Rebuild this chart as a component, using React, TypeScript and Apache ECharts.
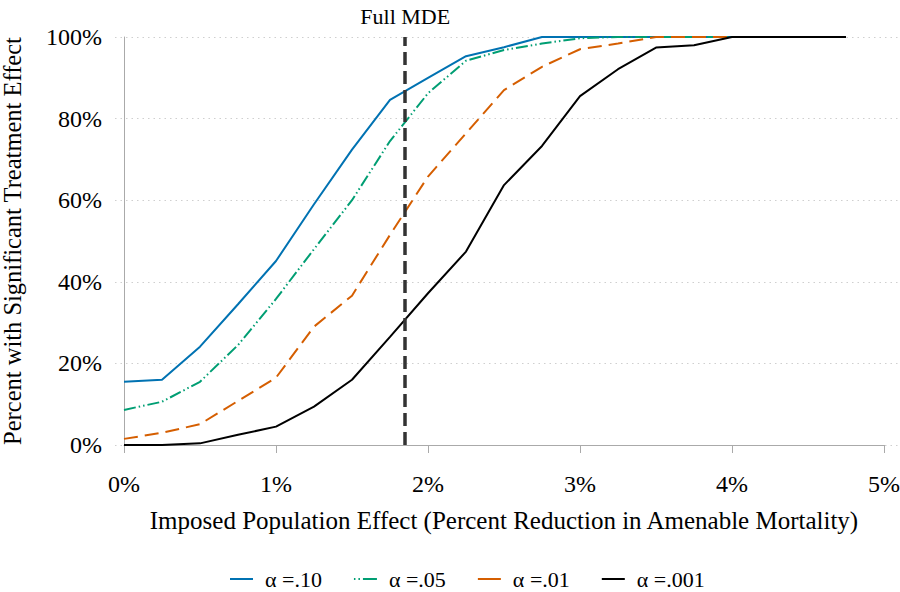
import React, { useEffect, useRef } from "react";
import * as echarts from "echarts";

// Imposed effect (percent reduction), sampled every 0.25 points
const effects = [0, 0.25, 0.5, 0.75, 1, 1.25, 1.5, 1.75, 2, 2.25, 2.5, 2.75, 3, 3.25, 3.5, 3.75, 4, 4.25, 4.5, 4.75];

// Share of simulations with a significant treatment effect (%)
const power10 = [15.5, 16.0, 24.1, 34.5, 45.1, 59, 72.4, 84.6, 90, 95.3, 97.5, 100, 100, 100, 100, 100, 100, 100, 100, 100];
const power05 = [8.6, 10.6, 15.5, 24.5, 35.8, 48, 60, 74.5, 86.2, 94.2, 96.8, 98.4, 99.7, 100, 100, 100, 100, 100, 100, 100];
const power01 = [1.5, 3.0, 5.1, 10.8, 16.5, 29, 36.6, 51.5, 65.8, 76.4, 87, 92.7, 97, 98.4, 100, 100, 100, 100, 100, 100];
const power001 = [0, 0, 0.4, 2.5, 4.5, 9.4, 16, 26.5, 37.2, 47.4, 63.7, 73.3, 85.5, 92.1, 97.4, 98, 100, 100, 100, 100];

const seriesNames = ["α =.10", "α =.05", "α =.01", "α =.001"];
const seriesColors = ["#0072B2", "#009E73", "#D55E00", "#000000"];
const seriesDash: (string | number[])[] = ["solid", [12, 3, 1.5, 3, 1.5, 3], [14, 7], "solid"];
const legendDash: (string | number[])[] = ["solid", [1.5, 3, 1.5, 3, 14, 0], "solid", "solid"];

const xTicks = [0, 1, 2, 3, 4, 5];
const yTicks = [0, 20, 40, 60, 80, 100];
const fullMde = 1.85;

const FONT = "Liberation Serif";

export default function App() {
  const ref = useRef<HTMLDivElement>(null);

  useEffect(() => {
    if (!ref.current) return;
    const chart = echarts.init(ref.current, undefined, { renderer: "svg" });
    const values = [power10, power05, power01, power001];

    const series: any[] = values.map((vals, i) => ({
      name: seriesNames[i],
      type: "line",
      xAxisIndex: 0,
      yAxisIndex: 0,
      data: effects.map((x, j) => [x, vals[j]]),
      symbol: "none",
      z: 3,
      lineStyle: { color: seriesColors[i], width: 2, type: seriesDash[i] },
      itemStyle: { color: seriesColors[i] },
    }));

    series[3].markLine = {
      silent: true,
      symbol: "none",
      z: 4,
      lineStyle: { color: "#333", width: 3.5, type: [13, 6] },
      label: {
        show: true,
        position: "end",
        distance: 10,
        formatter: "Full MDE",
        color: "#000",
        fontFamily: FONT,
        fontSize: 22,
      },
      data: [{ xAxis: fullMde }],
    };

    chart.setOption({
      animation: false,
      backgroundColor: "#fff",
      textStyle: { fontFamily: FONT },
      grid: [
        { left: 124, right: 16, top: 37, bottom: 147, containLabel: false, outerBoundsMode: "none" },
        { left: 115, right: 2, top: 37, bottom: 147, containLabel: false, outerBoundsMode: "none" },
      ],
      legend: {
        left: 229,
        top: 568,
        padding: 0,
        itemWidth: 23,
        itemHeight: 12,
        itemGap: 31,
        itemStyle: { opacity: 0 },
        data: seriesNames.map((name, i) => ({
          name,
          lineStyle: { width: 2, type: legendDash[i] },
        })),
        textStyle: { fontFamily: FONT, fontSize: 22, color: "#000", padding: [0, 0, 0, 7] },
      },
      xAxis: [
        {
          type: "value",
          gridIndex: 0,
          min: xTicks[0],
          max: xTicks[xTicks.length - 1],
          interval: 1,
          offset: 13,
          axisLine: { show: true, lineStyle: { color: "#aaa", width: 1 } },
          axisTick: { show: true, length: 8, lineStyle: { color: "#aaa" } },
          axisLabel: {
            formatter: (v: number) => `${v}%`,
            fontSize: 24,
            color: "#000",
            fontFamily: FONT,
            margin: 14,
          },
          splitLine: { show: false },
          name: "Imposed Population Effect (Percent Reduction in Amenable Mortality)",
          nameLocation: "middle",
          nameGap: 50,
          nameTextStyle: { fontSize: 25, color: "#000", fontFamily: FONT },
        },
        { type: "value", gridIndex: 1, min: 0, max: 5, show: false },
      ],
      yAxis: [
        {
          type: "value",
          gridIndex: 0,
          min: yTicks[0],
          max: yTicks[yTicks.length - 1],
          interval: 20,
          offset: 14,
          axisLine: { show: true, lineStyle: { color: "#aaa", width: 1 } },
          axisTick: { show: false },
          axisLabel: {
            formatter: (v: number) => `${v}%`,
            fontSize: 24,
            color: "#000",
            fontFamily: FONT,
            margin: 8,
          },
          splitLine: { show: false },
          name: "Percent with Significant Treatment Effect",
          nameLocation: "middle",
          nameGap: 85,
          nameTextStyle: { fontSize: 24.5, color: "#000", fontFamily: FONT },
        },
        {
          type: "value",
          gridIndex: 1,
          min: 0,
          max: 100,
          interval: 20,
          axisLine: { show: false },
          axisTick: { show: false },
          axisLabel: { show: false },
          splitLine: { show: true, lineStyle: { color: "#cfcfcf", width: 1, type: [1.5, 4] } },
        },
      ],
      series,
    });

    return () => chart.dispose();
  }, []);

  return (
    <div
      ref={ref}
      style={{ position: "fixed", left: 0, top: 0, width: 900, height: 592, background: "#fff" }}
    />
  );
}
